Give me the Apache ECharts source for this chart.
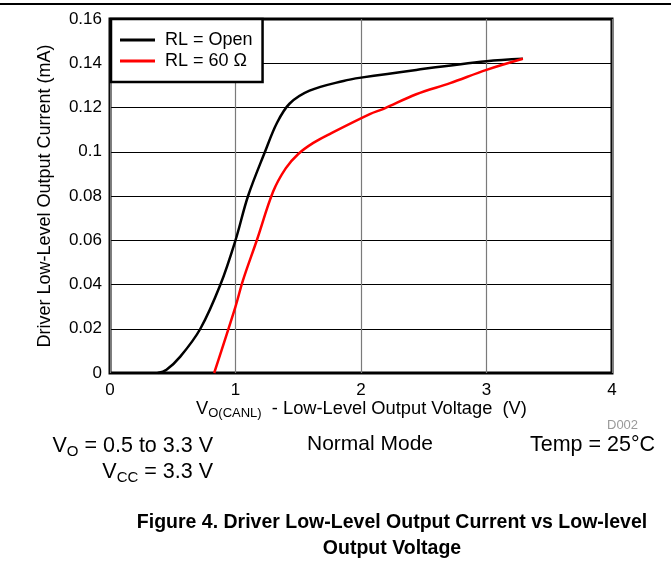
<!DOCTYPE html>
<html><head><meta charset="utf-8">
<script src="https://cdn.jsdelivr.net/npm/echarts@6/dist/echarts.min.js"></script>
<style>html,body{margin:0;padding:0;background:#fff}#c{width:671px;height:567px}</style>
</head><body><div id="c"></div>
<script>
const seriesNames = ['RL = Open', 'RL = 60 \u03A9'];
const openX = [0.38, 0.45, 0.56, 0.72, 0.88, 1.0, 1.10, 1.235, 1.33, 1.43, 1.59, 1.86, 2.0, 2.44, 3.0, 3.29];
const openY = [0, 0.0015, 0.0074, 0.020, 0.040, 0.060, 0.080, 0.100, 0.113, 0.1217, 0.1276, 0.132, 0.1335, 0.137, 0.1409, 0.142];
const ohm60X = [0.83, 1.0, 1.06, 1.17, 1.30, 1.40, 1.50, 1.62, 1.75, 2.07, 2.18, 2.44, 2.71, 3.0, 3.29];
const ohm60Y = [0, 0.030, 0.042, 0.060, 0.082, 0.0925, 0.0990, 0.1040, 0.108, 0.117, 0.1194, 0.126, 0.131, 0.137, 0.142];
const xTicks = [0, 1, 2, 3, 4];
const yTicks = [0, 0.02, 0.04, 0.06, 0.08, 0.1, 0.12, 0.14, 0.16];

const F = 'Liberation Sans, Arial, sans-serif';
const chart = echarts.init(document.getElementById('c'));
const zip = (xs, ys) => xs.map((x, i) => [x, ys[i]]);
const sub = (fs, sfs, pad) => ({ a: { fontFamily: F, fontSize: fs, fill: '#000' }, s: { fontFamily: F, fontSize: sfs, fill: '#000', padding: [pad, 0, 0, 0] } });
chart.setOption({
  animation: false,
  grid: { left: 110, right: 59, top: 19, bottom: 194, show: true, borderColor: '#000', borderWidth: 3, backgroundColor: 'transparent' },
  xAxis: {
    type: 'value', min: xTicks[0], max: xTicks[xTicks.length - 1], interval: 1,
    axisLine: { show: false }, axisTick: { show: false },
    axisLabel: { color: '#000', fontFamily: F, fontSize: 17, margin: 9 },
    splitLine: { show: true, lineStyle: { color: '#7a7a7a', width: 1.2 } }
  },
  yAxis: {
    type: 'value', min: yTicks[0], max: yTicks[yTicks.length - 1], interval: 0.02,
    axisLine: { show: false }, axisTick: { show: false },
    axisLabel: { color: '#000', fontFamily: F, fontSize: 17, margin: 8 },
    splitLine: { show: true, lineStyle: { color: '#000', width: 1 } },
    name: 'Driver Low-Level Output Current (mA)', nameLocation: 'middle', nameGap: 56,
    nameTextStyle: { color: '#000', fontFamily: F, fontSize: 18 }
  },
  legend: {
    left: 111, top: 19, orient: 'vertical',
    backgroundColor: '#fff', borderColor: '#000', borderWidth: 2.5,
    padding: [11, 10, 11, 9], itemGap: 1, itemWidth: 35, itemHeight: 3, icon: 'rect',
    textStyle: { color: '#000', fontFamily: F, fontSize: 18, lineHeight: 20, padding: [0, 0, 0, 5] },
    data: seriesNames
  },
  series: [
    { name: seriesNames[0], type: 'line', data: zip(openX, openY), smooth: 0.35, symbol: 'none', lineStyle: { color: '#000', width: 2.5 }, itemStyle: { color: '#000' }, z: 3 },
    { name: seriesNames[1], type: 'line', data: zip(ohm60X, ohm60Y), smooth: 0.35, symbol: 'none', lineStyle: { color: '#ff0000', width: 2.5 }, itemStyle: { color: '#ff0000' }, z: 4 }
  ],
  graphic: [
    { type: 'line', shape: { x1: 0, y1: 4, x2: 671, y2: 4 }, style: { stroke: '#000', lineWidth: 2 } },
    { type: 'text', left: 196, top: 400, style: { text: '{a|V}{s|O(CANL)}{a|  - Low-Level Output Voltage  (V)}', rich: sub(18.3, 13, 9) } },
    { type: 'text', left: 607, top: 419, style: { text: 'D002', fontFamily: F, fontSize: 13, fill: '#999' } },
    { type: 'text', x: 213, y: 434, style: { text: '{a|V}{s|O}{a| = 0.5 to 3.3 V}', align: 'right', rich: sub(21.5, 15, 10) } },
    { type: 'text', left: 307, top: 434, style: { text: 'Normal Mode', fontFamily: F, fontSize: 21, fill: '#000' } },
    { type: 'text', left: 530, top: 434, style: { text: 'Temp = 25\u00B0C', fontFamily: F, fontSize: 21.5, fill: '#000' } },
    { type: 'text', x: 213, y: 460, style: { text: '{a|V}{s|CC}{a| = 3.3 V}', align: 'right', rich: sub(21.5, 15, 10) } },
    { type: 'text', x: 392, y: 523, style: { text: 'Figure 4. Driver Low-Level Output Current vs Low-level', fontFamily: F, fontSize: 19.5, fontWeight: 'bold', fill: '#000', align: 'center', verticalAlign: 'middle' } },
    { type: 'text', x: 392, y: 549, style: { text: 'Output Voltage', fontFamily: F, fontSize: 19.5, fontWeight: 'bold', fill: '#000', align: 'center', verticalAlign: 'middle' } }
  ]
});
</script></body></html>
